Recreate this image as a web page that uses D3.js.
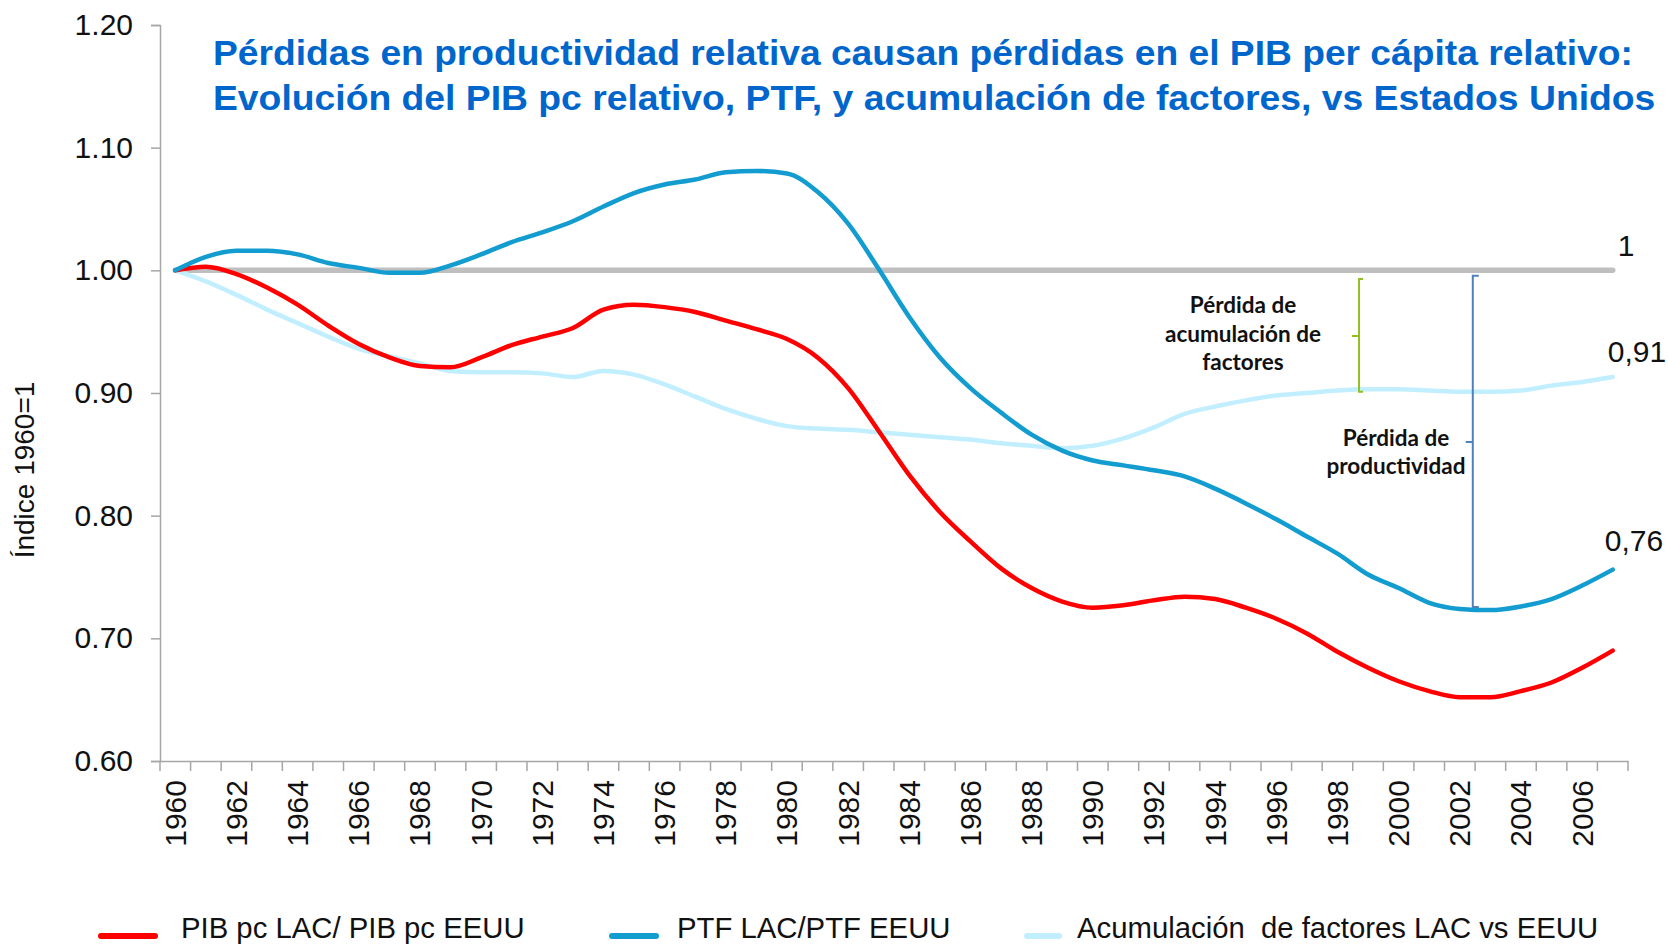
<!DOCTYPE html>
<html>
<head>
<meta charset="utf-8">
<script src="https://cdn.jsdelivr.net/npm/d3@7"></script>
<style>
  body { margin: 0; background: #fff; }
  svg { display: block; font-family: "Liberation Sans", Arial, sans-serif; }
</style>
</head>
<body>
<svg id="chart" width="1668" height="945"></svg>
<script>
// years on the x axis
const years = d3.range(1960, 2008);

// PIB pc LAC / PIB pc EEUU
const pib = [1.000, 1.003, 0.997, 0.986, 0.972, 0.955, 0.940, 0.929, 0.922, 0.921,
             0.929, 0.939, 0.946, 0.953, 0.968, 0.972, 0.970, 0.966, 0.959, 0.952,
             0.944, 0.929, 0.904, 0.869, 0.833, 0.803, 0.779, 0.757, 0.741, 0.730,
             0.725, 0.727, 0.731, 0.734, 0.732, 0.725, 0.716, 0.704, 0.689, 0.676,
             0.665, 0.657, 0.652, 0.652, 0.657, 0.664, 0.676, 0.690];

// PTF LAC / PTF EEUU
const ptf = [1.000, 1.011, 1.016, 1.016, 1.013, 1.006, 1.002, 0.998, 0.998, 1.004,
             1.013, 1.023, 1.031, 1.040, 1.052, 1.063, 1.070, 1.074, 1.080, 1.081,
             1.079, 1.064, 1.038, 1.001, 0.962, 0.929, 0.904, 0.884, 0.866, 0.853,
             0.845, 0.841, 0.837, 0.832, 0.822, 0.810, 0.797, 0.783, 0.769, 0.752,
             0.741, 0.729, 0.724, 0.723, 0.726, 0.732, 0.743, 0.756];

// Acumulación de factores LAC vs EEUU
const acum = [1.000, 0.991, 0.980, 0.968, 0.957, 0.946, 0.936, 0.930, 0.924, 0.918,
              0.917, 0.917, 0.916, 0.913, 0.918, 0.915, 0.907, 0.897, 0.887, 0.879,
              0.873, 0.871, 0.870, 0.868, 0.866, 0.864, 0.862, 0.859, 0.857, 0.855,
              0.857, 0.863, 0.872, 0.883, 0.889, 0.894, 0.898, 0.900, 0.902, 0.903,
              0.903, 0.902, 0.901, 0.901, 0.902, 0.906, 0.909, 0.913];

const yTicks = [0.60, 0.70, 0.80, 0.90, 1.00, 1.10, 1.20];
const xTickYears = years.filter(y => y % 2 === 0);

const seriesNames = ["PIB pc LAC/ PIB pc EEUU", "PTF LAC/PTF EEUU", "Acumulación  de factores LAC vs EEUU"];
const seriesColors = ["#ff0000", "#129ccf", "#c2efff"];

const titleLines = [
  "Pérdidas en productividad relativa causan pérdidas en el PIB per cápita relativo:",
  "Evolución del PIB pc relativo, PTF, y acumulación de factores, vs Estados Unidos"
];

const svg = d3.select("#chart");

const plotLeft = 160, plotRight = 1628, plotTop = 25, plotBottom = 761;

const x = d3.scaleBand()
    .domain(years)
    .range([plotLeft, plotRight]);

const y = d3.scaleLinear()
    .domain([0.6, 1.2])
    .range([plotBottom, plotTop]);

const cx = yr => x(yr) + x.bandwidth() / 2;

// y axis
const yAxis = svg.append("g")
    .attr("transform", `translate(${plotLeft},0)`)
    .call(d3.axisLeft(y).tickValues(yTicks).tickFormat(d3.format(".2f")).tickSize(9).tickPadding(18));
yAxis.select(".domain").attr("stroke", "#a6a6a6").attr("stroke-width", 1.5);
yAxis.selectAll(".tick line").attr("stroke", "#a6a6a6").attr("stroke-width", 1.5);
yAxis.selectAll(".tick text")
    .attr("font-size", 30)
    .attr("font-family", "Liberation Sans, Arial, sans-serif")
    .attr("fill", "#111");

// x axis: ticks between categories, labels every 2 years
const xAxis = svg.append("g")
    .attr("transform", `translate(0,${plotBottom})`)
    .call(d3.axisBottom(x).tickValues(xTickYears).tickSize(0).tickPadding(0));
xAxis.select(".domain").attr("stroke", "#a6a6a6").attr("stroke-width", 1.5);
xAxis.selectAll(".tick text")
    .attr("font-size", 30)
    .attr("font-family", "Liberation Sans, Arial, sans-serif")
    .attr("fill", "#111")
    .attr("text-anchor", "end")
    .attr("dy", "0.35em")
    .attr("transform", "translate(0,19) rotate(-90)");

svg.append("g")
    .selectAll("line")
    .data(years.concat([null]))
    .enter().append("line")
    .attr("x1", d => d === null ? plotRight : x(d))
    .attr("x2", d => d === null ? plotRight : x(d))
    .attr("y1", plotBottom)
    .attr("y2", plotBottom + 10)
    .attr("stroke", "#a6a6a6")
    .attr("stroke-width", 1.5);

// y axis title
svg.append("text")
    .attr("transform", "translate(34,470) rotate(-90)")
    .attr("text-anchor", "middle")
    .attr("font-size", 28)
    .attr("fill", "#111")
    .text("Índice 1960=1");

// reference line at 1
svg.append("line")
    .attr("x1", cx(years[0]))
    .attr("x2", cx(years[years.length - 1]))
    .attr("y1", y(1))
    .attr("y2", y(1))
    .attr("stroke", "#bfbfbf")
    .attr("stroke-width", 5.5)
    .attr("stroke-linecap", "round");

const line = d3.line()
    .x((d, i) => cx(years[i]))
    .y(d => y(d))
    .curve(d3.curveMonotoneX);

// draw light series first so the others sit on top
[acum, pib, ptf].forEach(function (s) {
    const idx = s === pib ? 0 : (s === ptf ? 1 : 2);
    svg.append("path")
        .attr("d", line(s))
        .attr("fill", "none")
        .attr("stroke", seriesColors[idx])
        .attr("stroke-width", 4.5)
        .attr("stroke-linejoin", "round")
        .attr("stroke-linecap", "round");
});

// end values
const lastYear = years[years.length - 1];
const endLabels = [
  { text: "1", v: 1.00, dx: 5, dy: -14 },
  { text: "0,91", v: acum[acum.length - 1], dx: -5, dy: -15 },
  { text: "0,76", v: ptf[ptf.length - 1], dx: -8, dy: -19 }
];
svg.selectAll(".endlabel")
    .data(endLabels)
    .enter().append("text")
    .attr("x", d => cx(lastYear) + d.dx)
    .attr("y", d => y(d.v) + d.dy)
    .attr("font-size", 30)
    .attr("fill", "#111")
    .text(d => d.text);

// bracket annotations
function brace(xv, yTop, yBot, yMid, color, hook) {
    const p = d3.path();
    p.moveTo(xv + hook, yTop);
    p.lineTo(xv, yTop);
    p.lineTo(xv, yBot);
    p.lineTo(xv + hook, yBot);
    p.moveTo(xv, yMid);
    p.lineTo(xv - 7, yMid);
    svg.append("path")
        .attr("d", p.toString())
        .attr("fill", "none")
        .attr("stroke", color)
        .attr("stroke-width", 2);
}
brace(cx(1999) - 9, y(0.993), y(0.901), y(0.9465), "#92c01f", 4);
brace(cx(2002) + 13, y(0.9955), y(0.7255), y(0.860), "#4f81bd", 6);

const annoFont = "Lato, 'Noto Sans', sans-serif";
const anno1 = ["Pérdida de", "acumulación de", "factores"];
svg.append("text")
    .attr("font-family", annoFont)
    .attr("font-weight", "bold")
    .attr("font-size", 22.5)
    .attr("fill", "#111")
    .attr("text-anchor", "middle")
    .selectAll("tspan")
    .data(anno1)
    .enter().append("tspan")
    .attr("x", 1243)
    .attr("y", (d, i) => 313 + i * 28.5)
    .text(d => d);

const anno2 = ["Pérdida de", "productividad"];
svg.append("text")
    .attr("font-family", annoFont)
    .attr("font-weight", "bold")
    .attr("font-size", 22.5)
    .attr("fill", "#111")
    .attr("text-anchor", "middle")
    .selectAll("tspan")
    .data(anno2)
    .enter().append("tspan")
    .attr("x", 1396)
    .attr("y", (d, i) => 446 + i * 28)
    .text(d => d);

// title
const titleWidth = 1443;
titleLines.forEach(function (t, i) {
    const tx = svg.append("text")
        .attr("x", 0)
        .attr("y", 0)
        .attr("font-size", 35)
        .attr("font-weight", "bold")
        .attr("fill", "#0066cc")
        .text(t);
    const w = tx.node().getComputedTextLength();
    const target = i === 0 ? 1420 : titleWidth;
    tx.attr("transform", `translate(213,${65 + i * 45}) scale(${target / w},1)`);
});

// legend
const legendX = [101, 612, 1027];
const legendTextX = [181, 677, 1077];
const legendLen = [54, 44, 32];
seriesNames.forEach(function (name, i) {
    svg.append("line")
        .attr("x1", legendX[i])
        .attr("x2", legendX[i] + legendLen[i])
        .attr("y1", 936)
        .attr("y2", 936)
        .attr("stroke", seriesColors[i])
        .attr("stroke-width", 6)
        .attr("stroke-linecap", "round");
    svg.append("text")
        .attr("x", legendTextX[i])
        .attr("y", 938)
        .attr("font-size", 29.3)
        .attr("fill", "#111")
        .attr("xml:space", "preserve")
        .style("white-space", "pre")
        .text(name);
});
</script>
</body>
</html>
